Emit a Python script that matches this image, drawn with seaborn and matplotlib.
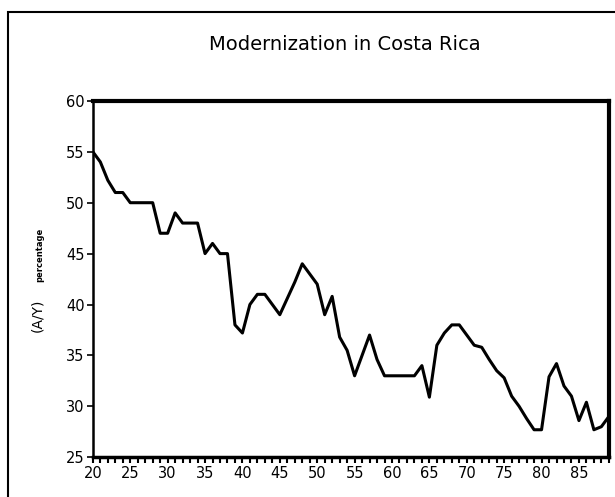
import numpy as np
import pandas as pd
import matplotlib
matplotlib.use("Agg")
import matplotlib.pyplot as plt
import seaborn as sns
from matplotlib.patches import Rectangle
from matplotlib.ticker import MultipleLocator

# years (19xx) and agricultural share values
years = list(range(20, 90))
share = [55.0, 54.0, 52.2, 51.0, 51.0, 50.0, 50.0, 50.0, 50.0, 47.0,
         47.0, 49.0, 48.0, 48.0, 48.0, 45.0, 46.0, 45.0, 45.0, 38.0,
         37.2, 40.0, 41.0, 41.0, 40.0, 39.0, 40.6, 42.2, 44.0, 43.0,
         42.0, 39.0, 40.8, 36.8, 35.5, 33.0, 35.0, 37.0, 34.6, 33.0,
         33.0, 33.0, 33.0, 33.0, 34.0, 30.9, 36.0, 37.2, 38.0, 38.0,
         37.0, 36.0, 35.8, 34.6, 33.5, 32.8, 31.0, 30.0, 28.8, 27.7,
         27.7, 32.9, 34.2, 32.0, 31.0, 28.6, 30.4, 27.7, 28.0, 29.0]
yticks = [25, 30, 35, 40, 45, 50, 55, 60]
xticks = [20, 25, 30, 35, 40, 45, 50, 55, 60, 65, 70, 75, 80, 85]

df = pd.DataFrame({"year": years, "share": share})

sns.set_style("white")
plt.rcParams["font.family"] = ["DejaVu Sans"]
plt.rcParams["text.color"] = "black"
plt.rcParams["xtick.color"] = "black"
plt.rcParams["ytick.color"] = "black"

fig = plt.figure(figsize=(6.15, 4.97), dpi=100)
ax = fig.add_axes([0.151, 0.080, 0.839, 0.717])

sns.lineplot(data=df, x="year", y="share", color="black", linewidth=2.2, ax=ax)

ax.set_xlim(20, 89)
ax.set_ylim(25, 60)
ax.set_xticks(xticks)
ax.set_yticks(yticks)
ax.xaxis.set_minor_locator(MultipleLocator(1))
ax.tick_params(axis="x", which="both", direction="out", length=4, width=1.5,
               bottom=True, labelsize=10.5, pad=2, colors="black")
ax.tick_params(axis="y", which="major", direction="out", length=4, width=1.2,
               left=True, labelsize=10.5, pad=2, colors="black")
ax.set_xlabel("")
ax.set_ylabel("")

for side, w in [("top", 3), ("right", 3), ("left", 1.8), ("bottom", 2.5)]:
    ax.spines[side].set_visible(True)
    ax.spines[side].set_color("black")
    ax.spines[side].set_linewidth(w)

fig.text(0.56, 0.91, "Modernization in Costa Rica", ha="center", va="center",
         fontsize=14, color="black")
fig.text(37 / 615, 1 - 315 / 497, "(A/Y)", rotation=90, ha="center",
         va="center", fontsize=10, color="black")
fig.text(40 / 615, 1 - 255 / 497, "percentage", rotation=90, ha="center",
         va="center", fontsize=6, fontweight="bold", color="black")

# outer frame of the scanned figure
fig.patches.append(Rectangle((8 / 615, -0.02), 1.1, 1 - 12 / 497 + 0.02,
                             transform=fig.transFigure, fill=False,
                             edgecolor="black", linewidth=1.5))

fig.savefig("out.png", dpi=100)
